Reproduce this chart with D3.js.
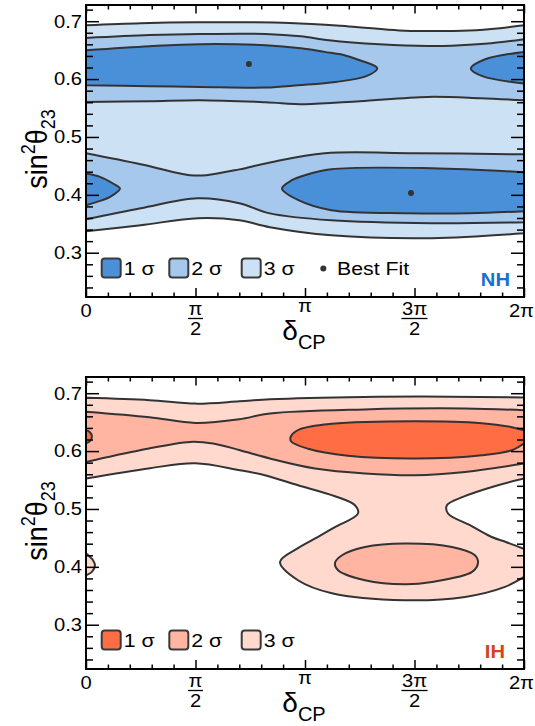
<!DOCTYPE html>
<html><head><meta charset="utf-8">
<script src="https://cdn.jsdelivr.net/npm/d3@7"></script>
<style>body{margin:0;background:#fff} svg{display:block}</style>
</head><body><svg id="chart" width="535" height="726"></svg>
<script>
// ---------- DATA (x in units of pi, y = sin^2 theta23) ----------
const xMajorTicks = [0, 0.5, 1, 1.5, 2];
const xTickNum = ["0", "π", "π", "3π", "2π"];
const xTickDen = [null, "2", null, "2", null];
const xMinorTicks = [0.1,0.2,0.3,0.4,0.6,0.7,0.8,0.9,1.1,1.2,1.3,1.4,1.6,1.7,1.8,1.9];
const yMajorTicks = [0.3, 0.4, 0.5, 0.6, 0.7];
const yTickLabels = ["0.3", "0.4", "0.5", "0.6", "0.7"];
const yMinorTicks = [0.24,0.26,0.28,0.32,0.34,0.36,0.38,0.42,0.44,0.46,0.48,0.52,0.54,0.56,0.58,0.62,0.64,0.66,0.68,0.72];
const legendLabels = ["1 σ", "2 σ", "3 σ"];
const bestFitLabel = "Best Fit";
const hierarchyLabels = ["NH", "IH"];

// NH contours
const nhSigma3Top = [[0,0.693],[0.25,0.6965],[0.5,0.698],[0.93,0.697],[1.2,0.691],[1.43,0.684],[1.56,0.683],[1.75,0.684],[1.89,0.688],[2,0.693]];
const nhSigma3Bottom = [[0,0.337],[0.25,0.3475],[0.51,0.3596],[0.7,0.3562],[0.84,0.344],[1.12,0.330],[1.58,0.325],[2,0.3337]];
const nhSigma2UpperTop = [[0,0.671],[0.29,0.676],[0.52,0.678],[0.82,0.678],[0.98,0.674],[1.11,0.667],[1.34,0.66],[1.56,0.657],[1.71,0.6585],[1.85,0.662],[2,0.669]];
const nhSigma2UpperBottom = [[0,0.5606],[0.29,0.5618],[0.52,0.5635],[0.82,0.560],[1.0,0.5566],[1.25,0.5618],[1.56,0.5692],[1.8,0.567],[2,0.5635]];
const nhSigma2LowerTop = [[0,0.472],[0.25,0.453],[0.475,0.434],[0.55,0.434],[0.7,0.444],[0.84,0.456],[1.09,0.472],[1.5,0.472],[2,0.470]];
const nhSigma2LowerBottom = [[0,0.358],[0.25,0.377],[0.51,0.394],[0.7,0.3855],[0.84,0.368],[1.12,0.356],[1.58,0.351],[2,0.3527]];
const nhSigma1UpperLeft = [[0,0.6499],[0.29,0.6568],[0.52,0.6603],[0.82,0.6585],[0.98,0.6533],[1.09,0.647],[1.18,0.6413],[1.25,0.6326],[1.33,0.6188],[1.28,0.605],[1.14,0.5951],[0.97,0.5894],[0.82,0.5854],[0.52,0.5865],[0.29,0.5877],[0,0.5894]];
const nhSigma1UpperRight = [[2,0.647],[1.82,0.6338],[1.757,0.6183],[1.81,0.605],[2,0.5924]];
const nhSigma1LowerLeft = [[0,0.4368],[0.064,0.431],[0.123,0.4196],[0.155,0.4109],[0.11,0.3964],[0.05,0.3878],[0,0.382]];
const nhSigma1LowerRight = [[0.895,0.4109],[0.94,0.4253],[1.0,0.434],[1.12,0.4443],[1.58,0.446],[2,0.4391],[2,0.3717],[1.75,0.3682],[1.47,0.3682],[1.12,0.3734],[0.97,0.3907]];
const nhBestFit = [[0.744,0.626],[1.484,0.403]];

// IH contours
const ihSigma3Top = [[0,0.692],[0.29,0.688],[0.5,0.682],[0.7,0.686],[0.84,0.6895],[1.27,0.6935],[1.66,0.694],[2,0.6925]];
const ihSigma3Lower = [[2,0.5526],[1.881,0.541],[1.721,0.5208],[1.648,0.5065],[1.653,0.4921],[1.753,0.4719],[1.85,0.452],[1.92,0.4426],[2,0.431],[2,0.3826],[1.913,0.3653],[1.731,0.348],[1.457,0.3423],[1.123,0.3544],[0.968,0.3769],[0.886,0.4085],[0.968,0.4322],[1.032,0.446],[1.137,0.4685],[1.242,0.4921],[1.228,0.5065],[1.137,0.522],[0.968,0.541],[0.817,0.5583],[0.703,0.5669],[0.498,0.579],[0.292,0.5704],[0,0.5526]];
const ihSigma3Left = [[0,0.4235],[0.032,0.4114],[0.041,0.4028],[0.027,0.3912],[0,0.3855]];
const ihSigma2Top = [[0,0.668],[0.29,0.6585],[0.5,0.6487],[0.7,0.655],[0.84,0.665],[1.27,0.672],[1.73,0.6736],[2,0.6706]];
const ihSigma2Bottom = [[0,0.5813],[0.247,0.6015],[0.475,0.6159],[0.58,0.6131],[0.703,0.6015],[0.84,0.5872],[1.046,0.5699],[1.274,0.5613],[1.502,0.5583],[1.731,0.564],[2,0.5785]];
const ihSigma2Lower = [[1.137,0.4068],[1.169,0.4201],[1.274,0.4344],[1.457,0.4403],[1.671,0.4344],[1.776,0.4201],[1.79,0.4068],[1.763,0.3912],[1.58,0.374],[1.457,0.37],[1.274,0.3769],[1.151,0.3942]];
const ihSigma1Right = [[0.936,0.6257],[0.977,0.6378],[1.123,0.6473],[1.502,0.6516],[1.808,0.6482],[1.945,0.6413],[2,0.6361],[2,0.6136],[1.945,0.6015],[1.808,0.5929],[1.502,0.5872],[1.196,0.592],[1.014,0.6041],[0.936,0.6171]];
const ihSigma1Left = [[0,0.6361],[0.018,0.6326],[0.027,0.6257],[0.018,0.6171],[0,0.6136]];

const nhColors = ["#4a90d9", "#a6c8ed", "#cde1f4"];
const ihColors = ["#ff6d45", "#ffb5a1", "#ffd8ce"];

// ---------- DRAWING ----------
const SX = 1.12;
const FONT = '"Liberation Sans", Arial, Helvetica, sans-serif';
const svg = d3.select("#chart");
const L = 86, R = 524, PH = 292;
const x = d3.scaleLinear().domain([0, 2]).range([L, R]);
const band = (a, b) => a.concat(b.slice().reverse());

function addText(g, px, py, str, size, opts = {}) {
  const t = g.append("text")
    .attr("transform", `translate(${px},${py}) scale(${opts.sx || SX},1)` + (opts.rot ? ` rotate(${opts.rot})` : ""))
    .attr("text-anchor", opts.anchor || "start")
    .style("font-family", FONT).style("font-size", size + "px")
    .style("font-weight", opts.bold ? "bold" : "normal")
    .attr("fill", opts.fill || "#000");
  if (str !== null) t.text(str);
  return t;
}

const panels = [
  { name: hierarchyLabels[0], top: 5, colors: nhColors, labelColor: "#1a6fd0", labelX: 510,
    regions: [
      { pts: band(nhSigma3Top, nhSigma3Bottom), level: 2 },
      { pts: band(nhSigma2UpperTop, nhSigma2UpperBottom), level: 1 },
      { pts: band(nhSigma2LowerTop, nhSigma2LowerBottom), level: 1 },
      { pts: nhSigma1UpperLeft, level: 0 },
      { pts: nhSigma1UpperRight, level: 0 },
      { pts: nhSigma1LowerLeft, level: 0 },
      { pts: nhSigma1LowerRight, level: 0 }
    ], best: nhBestFit },
  { name: hierarchyLabels[1], top: 377, colors: ihColors, labelColor: "#d4451b", labelX: 505,
    regions: [
      { pts: ihSigma3Top.concat(ihSigma3Lower), level: 2 },
      { pts: ihSigma3Left, level: 2 },
      { pts: band(ihSigma2Top, ihSigma2Bottom), level: 1 },
      { pts: ihSigma2Lower, level: 1 },
      { pts: ihSigma1Right, level: 0 },
      { pts: ihSigma1Left, level: 0 }
    ], best: null }
];

// smooth contour path: runs between plot-edge segments are smoothed, edge segments stay straight
function contourPath(pts, line, lineClosed) {
  const n = pts.length;
  const edgePair = (a, b) => (a[0] === 0 || a[0] === 2) && a[0] === b[0];
  let k = -1;
  for (let i = 0; i < n; i++) if (edgePair(pts[(i - 1 + n) % n], pts[i])) { k = i; break; }
  if (k < 0) return lineClosed(pts);
  const seq = pts.slice(k).concat(pts.slice(0, k));
  const runs = []; let cur = [seq[0]];
  for (let i = 1; i < n; i++) {
    if (edgePair(seq[i - 1], seq[i])) { runs.push(cur); cur = [seq[i]]; } else cur.push(seq[i]);
  }
  runs.push(cur);
  return runs.map((r, i) => { const s = line(r); return i ? s.replace(/^M/, "L") : s; }).join("") + "Z";
}

panels.forEach(cfg => {
  const top = cfg.top, bot = top + PH;
  const y = d3.scaleLinear().domain([0.2235, 0.728]).range([bot, top]);
  const line = d3.line().x(d => x(d[0])).y(d => y(d[1])).curve(d3.curveCatmullRom.alpha(0.5));
  const lineClosed = d3.line().x(d => x(d[0])).y(d => y(d[1])).curve(d3.curveCatmullRomClosed.alpha(0.5));
  const g = svg.append("g");
  const clipId = "clip" + cfg.name;
  svg.append("clipPath").attr("id", clipId).append("rect")
    .attr("x", L).attr("y", top).attr("width", R - L).attr("height", PH);
  const cg = g.append("g").attr("clip-path", `url(#${clipId})`);
  cfg.regions.forEach(r => {
    cg.append("path").attr("d", contourPath(r.pts, line, lineClosed))
      .attr("fill", cfg.colors[r.level]).attr("stroke", "#333")
      .attr("stroke-width", 2).attr("stroke-linejoin", "round");
  });
  if (cfg.best) {
    cg.selectAll("circle.bf").data(cfg.best).join("circle")
      .attr("cx", d => x(d[0])).attr("cy", d => y(d[1])).attr("r", 3).attr("fill", "#333");
  }

  // ticks
  const tickG = (axis, tx, ty) => g.append("g").attr("transform", `translate(${tx},${ty})`).call(axis)
    .call(s => { s.select(".domain").remove(); s.selectAll("text").remove();
                 s.selectAll("line").attr("stroke", "#000").attr("stroke-width", 1.5); });
  tickG(d3.axisLeft(y).tickValues(yMajorTicks).tickSize(-13).tickSizeOuter(0), L, 0);
  tickG(d3.axisLeft(y).tickValues(yMinorTicks).tickSize(-7).tickSizeOuter(0), L, 0);
  tickG(d3.axisRight(y).tickValues(yMajorTicks).tickSize(-13).tickSizeOuter(0), R, 0);
  tickG(d3.axisRight(y).tickValues(yMinorTicks).tickSize(-7).tickSizeOuter(0), R, 0);
  tickG(d3.axisBottom(x).tickValues(xMajorTicks).tickSize(-9).tickSizeOuter(0), 0, bot);
  tickG(d3.axisBottom(x).tickValues(xMinorTicks).tickSize(-4.5).tickSizeOuter(0), 0, bot);
  tickG(d3.axisTop(x).tickValues(xMajorTicks).tickSize(-8.5).tickSizeOuter(0), 0, top);
  tickG(d3.axisTop(x).tickValues(xMinorTicks).tickSize(-4.5).tickSizeOuter(0), 0, top);

  g.append("rect").attr("x", L).attr("y", top).attr("width", R - L).attr("height", PH)
    .attr("fill", "none").attr("stroke", "#000").attr("stroke-width", 2);

  // y tick labels
  yMajorTicks.forEach((v, i) => addText(g, 82, y(v) + 6.3, yTickLabels[i], 18, { anchor: "end" }));
  // x tick labels
  xMajorTicks.forEach((v, i) => {
    const px = x(v);
    if (xTickDen[i]) {
      const t = addText(g, px, bot + 18, xTickNum[i], 18, { anchor: "middle" });
      const w = t.node().getComputedTextLength() * SX + 1;
      g.append("line").attr("x1", px - w / 2).attr("x2", px + w / 2)
        .attr("y1", bot + 21.5).attr("y2", bot + 21.5).attr("stroke", "#000").attr("stroke-width", 1.3);
      addText(g, px, bot + 37.5, xTickDen[i], 18, { anchor: "middle" });
    } else if (xTickNum[i] === "π") {
      addText(g, px, bot + 15, xTickNum[i], 18, { anchor: "middle" });
    } else if (v === 2) {
      addText(g, 534, bot + 20, xTickNum[i], 18, { anchor: "end" });
    } else {
      addText(g, px, bot + 20, xTickNum[i], 18, { anchor: "middle" });
    }
  });

  // axis titles
  const xt = addText(g, 304, bot + 43, null, 28, { anchor: "middle", sx: 1 });
  xt.append("tspan").text("δ");
  xt.append("tspan").attr("dy", 9).style("font-size", "20px").text("CP");

  const yt = addText(g, 47, top + 144, null, 27, { anchor: "middle", rot: -90 });
  yt.append("tspan").text("sin");
  yt.append("tspan").attr("dy", -11).style("font-size", "18px").text("2");
  yt.append("tspan").attr("dy", 11).text("θ");
  yt.append("tspan").attr("dy", 7).style("font-size", "18px").text("23");

  // legend
  const lx = [101.7, 169.3, 241.7];
  legendLabels.forEach((lab, i) => {
    g.append("rect").attr("x", lx[i]).attr("y", top + 253.5).attr("width", 19).attr("height", 19)
      .attr("rx", 3).attr("fill", cfg.colors[i]).attr("stroke", "#3a3a3a").attr("stroke-width", 2);
    addText(g, lx[i] + 22, top + 270, lab, 19);
  });
  if (cfg.best) {
    g.append("circle").attr("cx", 323.3).attr("cy", top + 263.5).attr("r", 3).attr("fill", "#333");
    addText(g, 337, top + 270, bestFitLabel, 19);
  }
  addText(g, cfg.labelX, top + 280.5, cfg.name, 18, { anchor: "end", bold: true, fill: cfg.labelColor });
});
</script></body></html>
